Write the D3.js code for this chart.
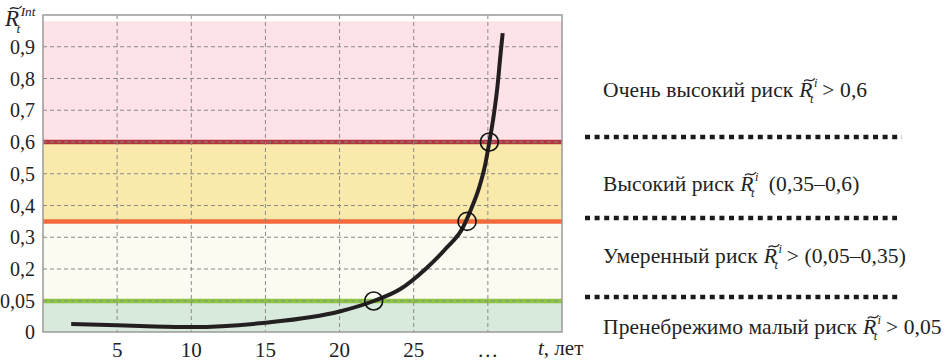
<!DOCTYPE html>
<html>
<head>
<meta charset="utf-8">
<script src="https://cdn.jsdelivr.net/npm/d3@7"></script>
<style>
  body { margin: 0; background: #fff; }
  svg { display: block; font-family: "Liberation Serif", "Times New Roman", "DejaVu Serif", serif; }
</style>
</head>
<body>
<svg id="chart" width="947" height="361"></svg>
<script>
// curve: t (years) -> integral risk
var curveT = [1.9, 5, 7.5, 10, 15, 20, 22.3, 24.1, 25.8, 27.2, 28.3, 28.9, 29.4, 29.8, 30.1, 30.4, 30.65, 30.85, 31.0];
var curveV = [0.013, 0.011, 0.009, 0.008, 0.015, 0.033, 0.05, 0.106, 0.2, 0.266, 0.329, 0.392, 0.455, 0.524, 0.6, 0.685, 0.776, 0.874, 0.943];

// marked crossings
var markT = [22.3, 28.6, 30.1];
var markV = [0.05, 0.35, 0.6];

// axis ticks
var yTicks = [0, 0.05, 0.2, 0.3, 0.4, 0.5, 0.6, 0.7, 0.8, 0.9];
var yLabels = ["0", "0,05", "0,2", "0,3", "0,4", "0,5", "0,6", "0,7", "0,8", "0,9"];
var xTicks = [5, 10, 15, 20, 25, 30];
var xLabels = ["5", "10", "15", "20", "25", "…"];

// risk zones
var zoneFrom = [0, 0.05, 0.35, 0.6];
var zoneTo = [0.05, 0.35, 0.6, 0.98];
var zoneFill = ["#d7eadc", "#fbfbf1", "#f9eaab", "#fde2e7"];
var limitV = [0.05, 0.35, 0.6];
var limitColor = ["#8dc641", "#f26b3b", "#b3363e"];

// legend
var legendText = ["Очень высокий риск", "Высокий риск", "Умеренный риск", "Пренебрежимо малый риск"];
var legendTail = ["> 0,6", " (0,35–0,6)", "> (0,05–0,35)", "> 0,05"];

var pLeft = 43, pRight = 562, pTop = 15, pBottom = 332;

var svg = d3.select("#chart");

var x = d3.scaleLinear().domain([0, 35]).range([pLeft, pRight]);
// axis is not linear: 0..0.05 and 0.05..0.2 each take one step
var y = d3.scaleLinear().domain([0, 0.05, 0.2, 1]).range([pBottom, 301, 269, pTop]);

/* zones */
svg.append("g").selectAll("rect")
  .data(zoneFrom).enter()
  .append("rect")
  .attr("x", pLeft)
  .attr("width", pRight - pLeft)
  .attr("y", (d, i) => y(zoneTo[i]))
  .attr("height", (d, i) => y(d) - y(zoneTo[i]))
  .attr("fill", (d, i) => zoneFill[i]);

/* limit lines */
svg.append("g").selectAll("line")
  .data(limitV).enter()
  .append("line")
  .attr("x1", pLeft).attr("x2", pRight)
  .attr("y1", d => y(d)).attr("y2", d => y(d))
  .attr("stroke", (d, i) => limitColor[i])
  .attr("stroke-width", 4.5);

/* grid */
var grid = svg.append("g")
  .attr("stroke", "#8a8a8a")
  .attr("stroke-width", 1)
  .attr("stroke-dasharray", "4,3");

grid.selectAll(".hg")
  .data(yTicks.filter(d => d > 0)).enter()
  .append("line")
  .attr("x1", pLeft).attr("x2", pRight)
  .attr("y1", d => y(d)).attr("y2", d => y(d));

grid.selectAll(".vg")
  .data(xTicks).enter()
  .append("line")
  .attr("x1", d => x(d)).attr("x2", d => x(d))
  .attr("y1", pTop).attr("y2", pBottom);

/* frame */
svg.append("rect")
  .attr("x", pLeft).attr("y", pTop)
  .attr("width", pRight - pLeft).attr("height", pBottom - pTop)
  .attr("fill", "none")
  .attr("stroke", "#9a9a9a")
  .attr("stroke-width", 1.5);

/* y labels */
svg.append("g").selectAll("text")
  .data(yTicks).enter()
  .append("text")
  .attr("x", 35)
  .attr("y", d => y(d) + 7)
  .attr("text-anchor", "end")
  .attr("font-size", 20)
  .attr("fill", "#222")
  .text((d, i) => yLabels[i]);

/* x labels */
svg.append("g").selectAll("text")
  .data(xTicks).enter()
  .append("text")
  .attr("x", d => x(d))
  .attr("y", 357)
  .attr("text-anchor", "middle")
  .attr("font-size", 21)
  .attr("fill", "#222")
  .text((d, i) => xLabels[i]);

var xt = svg.append("text")
  .attr("x", 538).attr("y", 355)
  .attr("font-size", 21)
  .attr("fill", "#222");
xt.append("tspan").attr("font-style", "italic").text("t");
xt.append("tspan").text(", лет");

/* curve */
var pts = curveT.map((t, i) => [t, curveV[i]]);
var line = d3.line()
  .x(d => x(d[0]))
  .y(d => y(d[1]))
  .curve(d3.curveMonotoneX);

svg.append("path")
  .attr("d", line(pts))
  .attr("fill", "none")
  .attr("stroke", "#231f20")
  .attr("stroke-width", 4);

svg.append("g").selectAll("circle")
  .data(markT).enter()
  .append("circle")
  .attr("cx", d => x(d))
  .attr("cy", (d, i) => y(markV[i]))
  .attr("r", 9)
  .attr("fill", "none")
  .attr("stroke", "#111")
  .attr("stroke-width", 1.6);

/* R with tilde, sub t and a superscript */
function drawR(g, px, py, size, sup) {
  g.append("text").attr("x", px).attr("y", py)
    .attr("font-size", size).attr("font-style", "italic").attr("fill", "#222").text("R");
  var tx = px + size * 0.22, ty = py - size * 0.8, tw = size * 0.5, th = size * 0.07;
  g.append("path")
    .attr("d", "M" + tx + "," + (ty + th) +
      " C" + (tx + tw * 0.3) + "," + (ty - th * 2) + " " + (tx + tw * 0.7) + "," + (ty + th * 3) +
      " " + (tx + tw) + "," + (ty - th))
    .attr("fill", "none").attr("stroke", "#222").attr("stroke-width", Math.max(1, size * 0.06));
  g.append("text").attr("x", px + size * 0.68).attr("y", py - size * 0.45)
    .attr("font-size", size * 0.58).attr("font-style", "italic").attr("fill", "#222").text(sup);
  g.append("text").attr("x", px + size * 0.5).attr("y", py + size * 0.3)
    .attr("font-size", size * 0.58).attr("font-style", "italic").attr("fill", "#222").text("t");
}

drawR(svg, 5, 26, 23, "Int");

/* legend */
var rowY = [97, 191, 263, 334];
var dotY = [137, 218, 297];
var dotEnd = [902, 897, 898];
var legSize = 21.5;

var leg = svg.append("g");
legendText.forEach(function (s, i) {
  var t = leg.append("text")
    .attr("x", 603).attr("y", rowY[i])
    .attr("font-size", legSize).attr("fill", "#222")
    .attr("letter-spacing", 0.1)
    .text(s);
  var w = t.node().getComputedTextLength();
  var rx = 603 + w + 6;
  drawR(leg, rx, rowY[i], legSize, "i");
  leg.append("text")
    .attr("x", rx + 23).attr("y", rowY[i])
    .attr("font-size", legSize).attr("fill", "#222")
    .attr("letter-spacing", 0.1)
    .attr("xml:space", "preserve")
    .text(legendTail[i]);
});

leg.selectAll("line")
  .data(dotY).enter()
  .append("line")
  .attr("x1", 585).attr("x2", (d, i) => dotEnd[i])
  .attr("y1", d => d).attr("y2", d => d)
  .attr("stroke", "#1a1a1a")
  .attr("stroke-width", 4.5)
  .attr("stroke-dasharray", "5,4.6");
</script>
</body>
</html>
